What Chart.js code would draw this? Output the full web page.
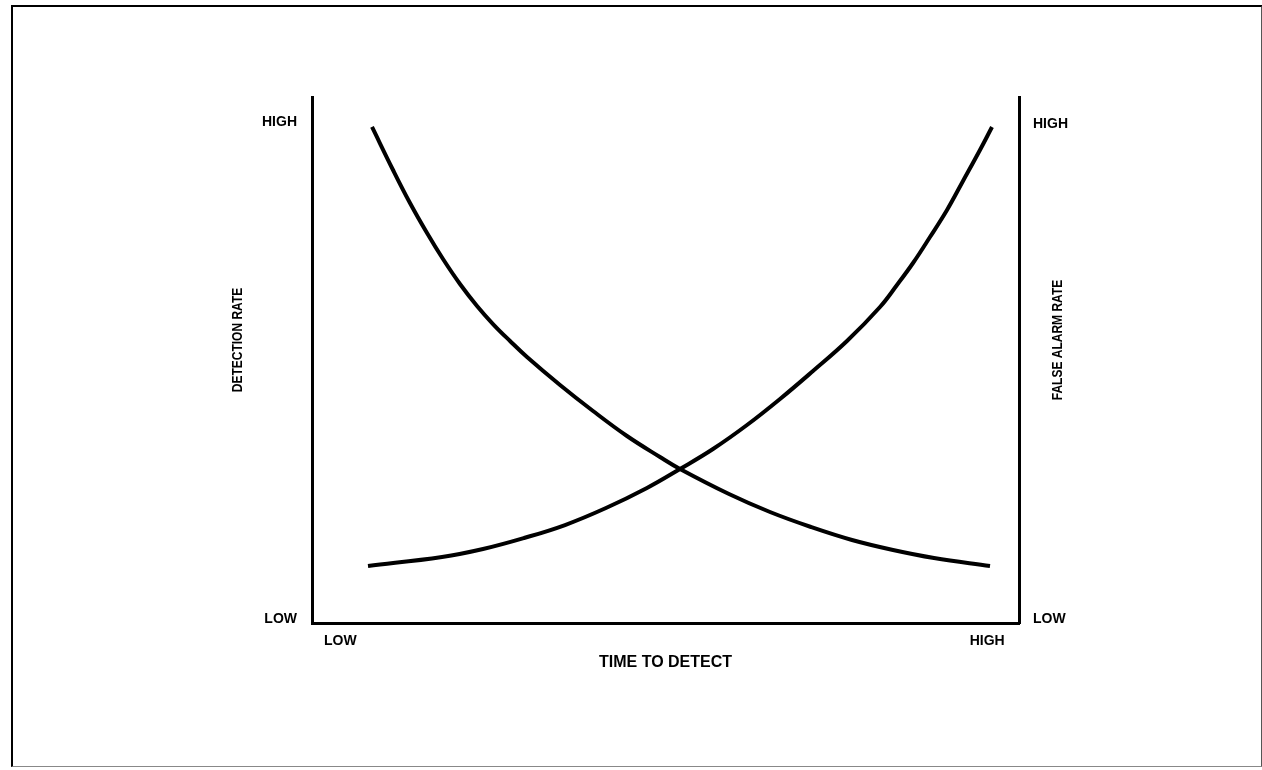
<!DOCTYPE html>
<html lang="en">
<head>
    <meta charset="UTF-8">
    <title>Detection Rate vs False Alarm Rate</title>
    <script src="https://cdn.jsdelivr.net/npm/chart.js"></script>
    <style>
        body {
            margin: 0;
            background-color: #fff;
        }
        .frame {
            position: absolute;
            left: 11px;
            top: 5px;
            width: 1248px;
            height: 759px;
            border-left: 2px solid #000;
            border-top: 2px solid #000;
            border-right: 2px solid #555;
            border-bottom: 1px solid #888;
        }
    </style>
</head>
<body>
    <div class="frame">
        <canvas id="myChart"></canvas>
    </div>

    <script>
        // Curve readings (x = time to detect, y = rate), 0..100 scale
        const detectionX = [8.49, 11.46, 13.86, 16.27, 18.53, 20.93, 23.34, 25.60, 28.01, 30.41, 35.08, 39.75, 44.55, 49.22, 52.05, 58.98, 64.78, 70.58, 76.38, 82.18, 87.98, 95.90];
        const detectionY = [94.30, 86.12, 79.85, 74.14, 69.20, 64.45, 60.27, 56.84, 53.61, 50.57, 45.25, 40.30, 35.55, 31.56, 29.28, 24.52, 21.10, 18.25, 15.78, 13.88, 12.36, 10.84];

        const falseAlarmX = [7.92, 18.39, 24.19, 29.99, 35.79, 41.58, 47.38, 52.05, 56.72, 61.53, 66.20, 70.86, 75.67, 80.34, 82.74, 85.01, 87.41, 89.82, 92.08, 94.48, 96.18];
        const falseAlarmY = [10.84, 12.55, 14.07, 16.16, 18.63, 21.86, 25.67, 29.28, 33.08, 37.64, 42.59, 47.91, 53.61, 60.08, 64.26, 68.44, 73.38, 78.52, 84.03, 89.92, 94.30];

        // Qualitative tick labels
        const xTickValues = [4, 95.5];
        const xTickLabels = ['LOW', 'HIGH'];
        const yTickValues = [0.8, 95.2];
        const yTickLabels = ['LOW', 'HIGH'];
        const y2TickValues = [0.8, 94.9];
        const y2TickLabels = ['LOW', 'HIGH'];

        const xTitle = 'TIME TO DETECT';
        const yTitle = 'DETECTION RATE';
        const y2Title = 'FALSE ALARM RATE';

        const FONT = "'Liberation Sans', Arial, sans-serif";

        const toPoints = (xs, ys) => xs.map((x, i) => ({ x: x, y: ys[i] }));

        // vertical titles read bottom-to-top on both sides (narrow lettering)
        const sideTitles = {
            id: 'sideTitles',
            afterDraw(chart) {
                const ctx = chart.ctx;
                const area = chart.chartArea;
                const midY = (area.top + area.bottom) / 2 - 20;
                ctx.save();
                ctx.fillStyle = '#000';
                ctx.font = 'bold 15px ' + FONT;
                ctx.textAlign = 'center';
                ctx.textBaseline = 'middle';
                [[chart.scales.y.left + 225, yTitle], [chart.scales.y2.left + 39, y2Title]].forEach(([x, text]) => {
                    ctx.save();
                    ctx.translate(x, midY);
                    ctx.rotate(-Math.PI / 2);
                    ctx.scale(0.8, 1);
                    ctx.fillText(text, 0, 0);
                    ctx.restore();
                });
                ctx.restore();
            }
        };

        function fixedTicks(values) {
            return axis => { axis.ticks = values.map(v => ({ value: v })); };
        }

        const tickFont = { family: FONT, size: 14, weight: 'bold' };

        const ctx = document.getElementById('myChart').getContext('2d');
        new Chart(ctx, {
            type: 'line',
            data: {
                datasets: [
                    {
                        label: 'Detection rate',
                        data: toPoints(detectionX, detectionY),
                        yAxisID: 'y'
                    },
                    {
                        label: 'False alarm rate',
                        data: toPoints(falseAlarmX, falseAlarmY),
                        yAxisID: 'y2'
                    }
                ]
            },
            options: {
                responsive: true,
                maintainAspectRatio: false,
                animation: false,
                layout: { padding: { top: 90, left: 0, right: 0, bottom: 0 } },
                elements: {
                    line: {
                        borderColor: '#000',
                        borderWidth: 4,
                        tension: 0.4,
                        fill: false
                    },
                    point: { radius: 0, hoverRadius: 0 }
                },
                scales: {
                    x: {
                        type: 'linear',
                        position: 'bottom',
                        min: 0,
                        max: 100,
                        grid: { display: false, drawTicks: false },
                        border: { display: true, color: '#000', width: 3 },
                        afterBuildTicks: fixedTicks(xTickValues),
                        afterFit: scale => { scale.height = 143; },
                        ticks: {
                            autoSkip: false,
                            maxRotation: 0,
                            padding: 10,
                            color: '#000',
                            font: tickFont,
                            callback: (v, i) => xTickLabels[i]
                        },
                        title: {
                            display: true,
                            text: xTitle,
                            color: '#000',
                            font: { family: FONT, size: 16, weight: 'bold' },
                            padding: { top: 0, bottom: 94 }
                        }
                    },
                    y: {
                        position: 'left',
                        min: 0,
                        max: 100,
                        grid: { display: false, drawTicks: false },
                        border: { display: true, color: '#000', width: 3 },
                        afterBuildTicks: fixedTicks(yTickValues),
                        afterFit: scale => { scale.width = 299; },
                        ticks: {
                            autoSkip: false,
                            padding: 15,
                            color: '#000',
                            font: tickFont,
                            callback: (v, i) => yTickLabels[i]
                        }
                    },
                    y2: {
                        position: 'right',
                        min: 0,
                        max: 100,
                        grid: { display: false, drawTicks: false },
                        border: { display: true, color: '#000', width: 3 },
                        afterBuildTicks: fixedTicks(y2TickValues),
                        afterFit: scale => { scale.width = 242; },
                        ticks: {
                            autoSkip: false,
                            padding: 14,
                            color: '#000',
                            font: tickFont,
                            callback: (v, i) => y2TickLabels[i]
                        }
                    }
                },
                plugins: {
                    legend: { display: false },
                    tooltip: { enabled: false }
                }
            },
            plugins: [sideTitles]
        });
    </script>
</body>
</html>
